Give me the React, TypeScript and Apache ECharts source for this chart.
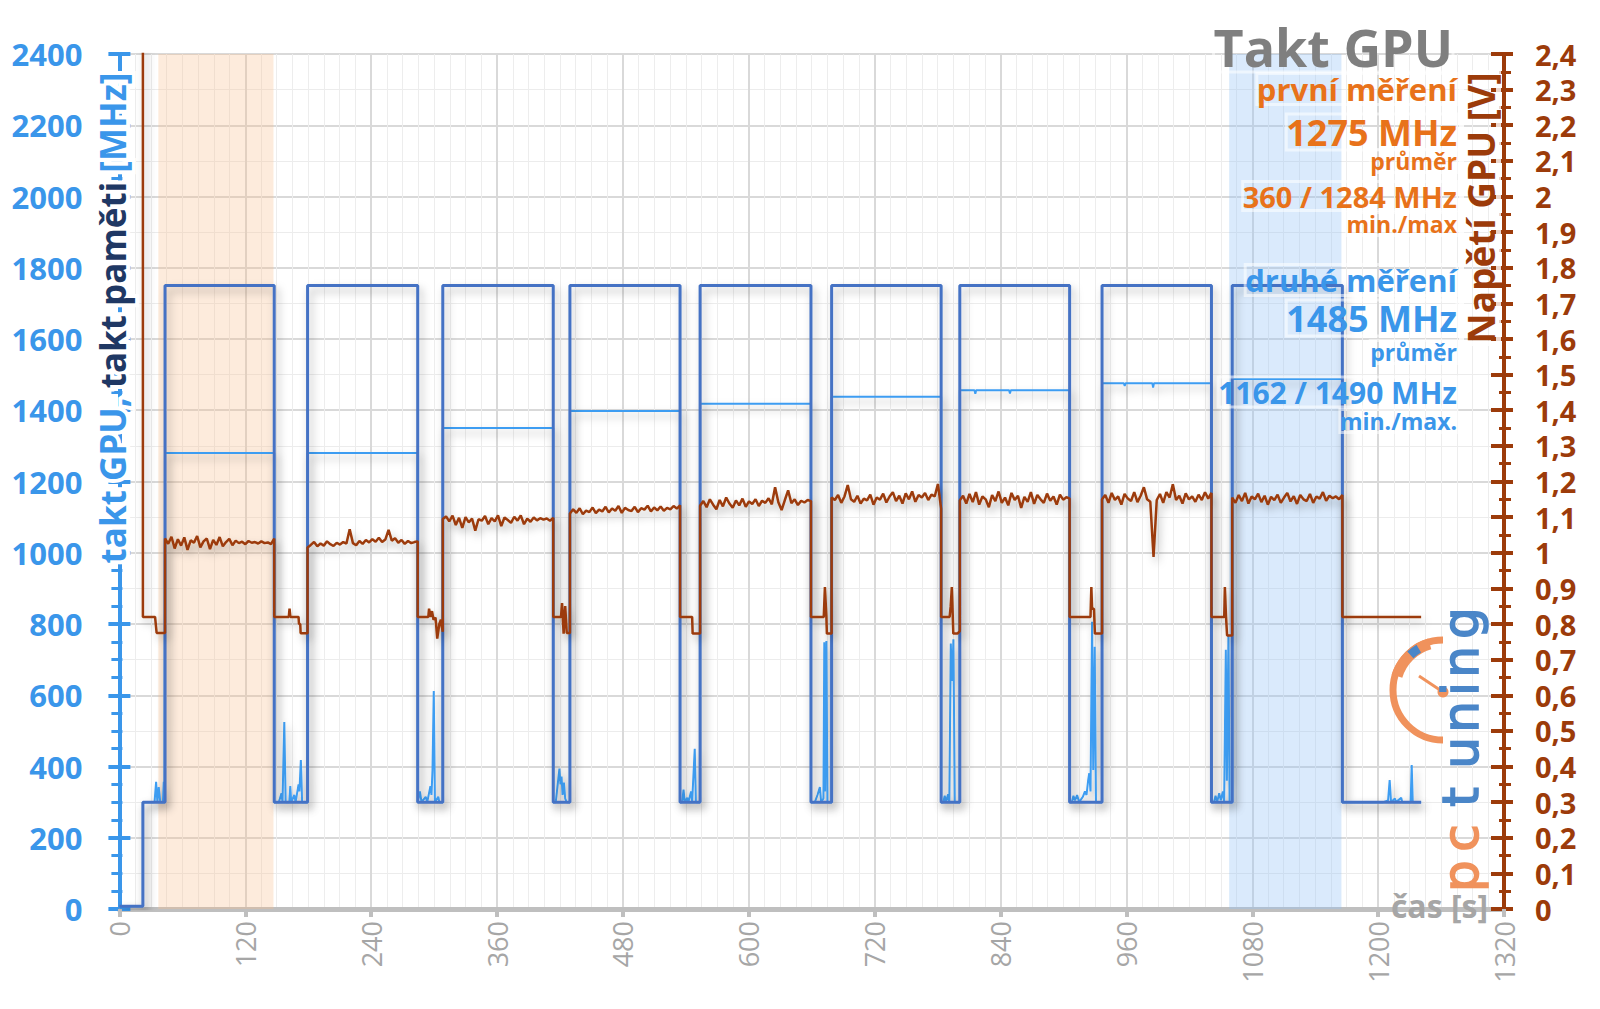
import React, { useEffect, useRef } from 'react';
import * as echarts from 'echarts';

// ---------- data (time in s, clocks in MHz, voltage in V) ----------
const powerOnT = 22.4;
const runEnd = 1241;
const offMHz = 8;
const memIdleMHz = 300;
const memLoadMHz = 1750;
const gpuIdleMHz = 300;

const loadStart = [43.5, 179.4, 308.3, 429.5, 553.6, 679.0, 801.2, 936.8, 1060.9];
const loadEnd = [147.6, 284.4, 413.6, 534.5, 659.3, 783.4, 905.9, 1041.1, 1165.9];

const gpuLoadMHz = [1280, 1280, 1350, 1398, 1418, 1438, 1456, 1476, 1488];
const gpuLoadDips = [[816, 1446], [849, 1447], [958.4, 1468], [985.5, 1464]];

const gpuIdle0 = [[33.5, 300], [35.0, 357], [36.2, 300], [37.5, 342], [39.0, 300], [41.5, 300], [42.3, 357], [43.0, 300]];
const gpuIdle1 = [[152, 300], [154.5, 325], [155.5, 300], [157.2, 525], [158.5, 300], [162.0, 300], [162.9, 345], [163.8, 300], [166.7, 320], [168, 300], [170.8, 350], [171.6, 330], [173.0, 418], [174.2, 300]];
const gpuIdle2 = [[286.5, 330], [288, 300], [292, 315], [293.5, 300], [296.5, 345], [297.5, 320], [298.5, 390], [299.7, 612], [300.8, 300], [304, 315], [305, 300]];
const gpuIdle3 = [[416, 300], [417.5, 340], [419.5, 394], [420.5, 350], [421.5, 372], [422.5, 320], [423.8, 355], [425, 310], [426.5, 300]];
const gpuIdle4 = [[536.5, 300], [537.8, 335], [539, 300], [541.4, 312], [542.5, 300], [545, 330], [546, 300], [548.5, 450], [549.6, 300]];
const gpuIdle5 = [[663, 300], [665.5, 320], [667.8, 342], [669, 300], [671.2, 310], [672.0, 749], [672.8, 330], [674.0, 752], [675.0, 300]];
const gpuIdle6 = [[785.5, 300], [786.8, 318], [788, 300], [790, 322], [791.2, 300], [792.6, 745], [793.8, 640], [795.1, 757], [796.4, 300]];
const gpuIdle7 = [[908, 300], [909.5, 318], [911, 305], [913, 320], [915, 300], [918.5, 315], [920.5, 330], [922, 320], [923.5, 360], [924.6, 381], [925.8, 330], [927.3, 806], [928.4, 390], [929.8, 736], [931, 300]];
const gpuIdle8 = [[1043.5, 300], [1045, 318], [1046.5, 300], [1048.5, 325], [1050, 305], [1052, 330], [1053.2, 300], [1054.8, 728], [1055.8, 360], [1057.3, 770], [1058.4, 300]];
const gpuIdle9 = [[1205, 300], [1209.5, 305], [1211, 362], [1212.3, 300], [1216, 310], [1217, 300], [1222, 312], [1223, 300], [1231, 300], [1232, 404], [1233, 300]];

const voltIdle0 = [[powerOnT, 2.6], [powerOnT, 0.82], [34.0, 0.82], [35.5, 0.775], [43.5, 0.775]];
const voltIdle1 = [[147.6, 0.82], [161.5, 0.82], [162.2, 0.843], [163.0, 0.82], [170.8, 0.82], [171.2, 0.80], [172.4, 0.80], [172.8, 0.774], [179.4, 0.774]];
const voltIdle2 = [[284.4, 0.82], [294.5, 0.82], [295.2, 0.843], [296.5, 0.82], [298.0, 0.836], [299.5, 0.812], [301.4, 0.818], [303.0, 0.759], [305.0, 0.80], [306.5, 0.812], [307.5, 0.79], [308.3, 0.778]];
const voltIdle3 = [[413.6, 0.82], [421.0, 0.82], [422.0, 0.859], [423.5, 0.773], [425.0, 0.85], [426.5, 0.775], [429.5, 0.775]];
const voltIdle4 = [[534.5, 0.82], [546.0, 0.82], [546.5, 0.773], [553.6, 0.773]];
const voltIdle5 = [[659.3, 0.82], [671.5, 0.82], [672.6, 0.904], [674.0, 0.82], [674.5, 0.773], [679.0, 0.773]];
const voltIdle6 = [[783.4, 0.82], [791.5, 0.82], [792.5, 0.85], [793.6, 0.904], [795.0, 0.773], [799.0, 0.773], [801.2, 0.78]];
const voltIdle7 = [[905.9, 0.82], [925.8, 0.82], [926.6, 0.904], [927.3, 0.843], [929.1, 0.843], [930.0, 0.773], [936.8, 0.773]];
const voltIdle8 = [[1041.1, 0.82], [1053.3, 0.82], [1053.9, 0.904], [1055.0, 0.82], [1056.0, 0.768], [1060.9, 0.768]];
const voltIdle9 = [[1165.9, 0.82], [runEnd, 0.82]];

const voltLoad1 = [1.040, 1.025, 1.045, 1.012, 1.038, 1.020, 1.043, 1.008, 1.035, 1.028, 1.047, 1.015, 1.032, 1.040, 1.010, 1.036, 1.022, 1.044, 1.018, 1.030, 1.039, 1.021, 1.034, 1.027, 1.031, 1.024, 1.033, 1.028, 1.030, 1.026, 1.032, 1.027, 1.029, 1.024, 1.040];
const voltLoad2 = [1.015, 1.022, 1.030, 1.018, 1.026, 1.020, 1.032, 1.024, 1.019, 1.028, 1.023, 1.030, 1.026, 1.066, 1.027, 1.021, 1.033, 1.025, 1.036, 1.029, 1.038, 1.031, 1.042, 1.030, 1.037, 1.064, 1.034, 1.041, 1.028, 1.036, 1.025, 1.033, 1.027, 1.030, 1.032];
const voltLoad3 = [1.095, 1.102, 1.088, 1.104, 1.078, 1.098, 1.070, 1.100, 1.085, 1.096, 1.062, 1.094, 1.090, 1.103, 1.080, 1.097, 1.088, 1.105, 1.075, 1.099, 1.092, 1.084, 1.101, 1.090, 1.105, 1.080, 1.096, 1.087, 1.099, 1.091, 1.097, 1.093, 1.096, 1.090, 1.098];
const voltLoad4 = [1.110, 1.122, 1.112, 1.125, 1.108, 1.118, 1.114, 1.127, 1.111, 1.121, 1.116, 1.129, 1.113, 1.124, 1.118, 1.131, 1.112, 1.126, 1.120, 1.117, 1.129, 1.114, 1.125, 1.121, 1.132, 1.116, 1.127, 1.119, 1.130, 1.118, 1.126, 1.122, 1.131, 1.124, 1.133];
const voltLoad5 = [1.132, 1.145, 1.128, 1.150, 1.135, 1.122, 1.148, 1.130, 1.155, 1.138, 1.126, 1.147, 1.133, 1.152, 1.129, 1.144, 1.137, 1.150, 1.131, 1.146, 1.140, 1.153, 1.136, 1.184, 1.142, 1.120, 1.148, 1.175, 1.139, 1.150, 1.134, 1.146, 1.141, 1.148, 1.145];
const voltLoad6 = [1.155, 1.148, 1.162, 1.140, 1.158, 1.190, 1.150, 1.143, 1.160, 1.138, 1.152, 1.147, 1.163, 1.135, 1.155, 1.149, 1.166, 1.141, 1.158, 1.170, 1.145, 1.160, 1.138, 1.167, 1.150, 1.172, 1.143, 1.162, 1.155, 1.168, 1.148, 1.163, 1.158, 1.193, 1.124];
const voltLoad7 = [1.147, 1.160, 1.138, 1.165, 1.142, 1.170, 1.135, 1.158, 1.150, 1.128, 1.162, 1.145, 1.172, 1.140, 1.155, 1.133, 1.168, 1.148, 1.160, 1.126, 1.157, 1.143, 1.170, 1.137, 1.162, 1.150, 1.140, 1.166, 1.146, 1.158, 1.135, 1.163, 1.149, 1.156, 1.152];
const voltLoad8 = [1.150, 1.162, 1.140, 1.168, 1.148, 1.158, 1.135, 1.165, 1.152, 1.145, 1.170, 1.142, 1.160, 1.184, 1.150, 1.143, 0.988, 1.148, 1.165, 1.140, 1.170, 1.155, 1.192, 1.148, 1.160, 1.138, 1.167, 1.150, 1.158, 1.143, 1.163, 1.148, 1.170, 1.152, 1.168];
const voltLoad9 = [1.155, 1.140, 1.162, 1.145, 1.168, 1.138, 1.158, 1.150, 1.166, 1.142, 1.160, 1.135, 1.157, 1.148, 1.163, 1.140, 1.155, 1.168, 1.144, 1.159, 1.137, 1.162, 1.150, 1.145, 1.165, 1.140, 1.158, 1.152, 1.170, 1.146, 1.160, 1.153, 1.158, 1.150, 1.162];

const bandFirst = [37.1, 146.9];
const bandSecond = [1058, 1165];

const gpuIdleList = [gpuIdle0, gpuIdle1, gpuIdle2, gpuIdle3, gpuIdle4, gpuIdle5, gpuIdle6, gpuIdle7, gpuIdle8, gpuIdle9];
const voltIdleList = [voltIdle0, voltIdle1, voltIdle2, voltIdle3, voltIdle4, voltIdle5, voltIdle6, voltIdle7, voltIdle8, voltIdle9];
const voltLoadList = [voltLoad1, voltLoad2, voltLoad3, voltLoad4, voltLoad5, voltLoad6, voltLoad7, voltLoad8, voltLoad9];

function buildMem() {
  const d: number[][] = [[0, offMHz], [powerOnT, offMHz], [powerOnT, memIdleMHz]];
  loadStart.forEach((s, i) => {
    d.push([s, memIdleMHz], [s, memLoadMHz], [loadEnd[i], memLoadMHz], [loadEnd[i], memIdleMHz]);
  });
  d.push([runEnd, memIdleMHz]);
  return d;
}

function buildGpu() {
  const d: number[][] = [[0, offMHz], [powerOnT, offMHz], [powerOnT, gpuIdleMHz]];
  d.push(...gpuIdleList[0]);
  loadStart.forEach((s, i) => {
    const e = loadEnd[i];
    const g = gpuLoadMHz[i];
    d.push([s, gpuIdleMHz], [s, g]);
    gpuLoadDips.forEach(([t, v]) => {
      if (t > s && t < e) d.push([t - 0.8, g], [t, v], [t + 0.8, g]);
    });
    d.push([e, g], [e, gpuIdleMHz]);
    d.push(...gpuIdleList[i + 1]);
  });
  d.push([runEnd, gpuIdleMHz]);
  return d;
}

function buildVolt() {
  const d: number[][] = [...voltIdleList[0]];
  loadStart.forEach((s, i) => {
    const seg = voltLoadList[i];
    const step = (loadEnd[i] - s) / (seg.length - 1);
    seg.forEach((v, k) => d.push([s + k * step, v]));
    d.push(...voltIdleList[i + 1]);
  });
  return d;
}

// ---------- styling ----------
const FONT = "'Open Sans', 'Noto Sans', sans-serif";
const BLUE = '#3a96ea';
const NAVY = '#1f3864';
const MEM_BLUE = '#4472c4';
const GPU_BLUE = '#3d9df2';
const BROWN = '#9c3b0a';
const ORANGE = '#e8721a';
const GRAY = '#a6a6a6';
const LOGO_ORANGE = '#f0925c';
const LOGO_BLUE = '#4a86c8';

const shadow = { shadowColor: 'rgba(0,0,0,0.28)', shadowBlur: 8, shadowOffsetX: 3, shadowOffsetY: 5 };
const glow = { textBorderColor: 'rgba(255,255,255,0.55)', textBorderWidth: 3 };

function txt(text: string, x: number, y: number, size: number, color: string, extra: any = {}) {
  return {
    type: 'text', x, y, z: 50,
    style: {
      text, fill: color, fontSize: size, fontWeight: 'bold', fontFamily: FONT,
      align: 'right', verticalAlign: 'middle', ...glow, ...extra,
    },
  };
}

const logoLetters = [
  ['p', 876, LOGO_ORANGE], ['c', 838, LOGO_ORANGE], ['t', 797, LOGO_BLUE], ['u', 753, LOGO_BLUE],
  ['n', 717, LOGO_BLUE], ['i', 689, LOGO_BLUE], ['n', 662, LOGO_BLUE], ['g', 623, LOGO_BLUE],
];

export default function App() {
  const ref = useRef<HTMLDivElement>(null);
  useEffect(() => {
    if (!ref.current) return;
    const chart = echarts.init(ref.current, undefined, { renderer: 'svg' });
    const fmtV = (v: number) => String(Math.round(v * 10) / 10).replace('.', ',');
    const fmtN = (v: number) => String(Math.round(v));
    const titleRich = (fill: string) => ({
      fill, fontSize: 35, fontWeight: 'bold', fontFamily: FONT, stroke: '#ffffff', lineWidth: 8,
    });
    const option: any = {
      animation: false,
      backgroundColor: '#ffffff',
      grid: { left: 119.4, right: 96, top: 54, bottom: 100, containLabel: false, outerBoundsMode: 'none' },
      xAxis: {
        type: 'value', min: 0, max: 1320, interval: 120,
        axisLine: { show: true, onZero: false, lineStyle: { color: '#bfbfbf', width: 5 } },
        axisTick: { show: true, length: 8, lineStyle: { color: '#bfbfbf', width: 4 } },
        axisLabel: { rotate: 90, color: GRAY, fontSize: 27, fontFamily: FONT, margin: 12, showMinLabel: true, showMaxLabel: true, formatter: fmtN },
        splitLine: { show: true, lineStyle: { color: '#d9d9d9', width: 2 } },
        minorTick: { show: false, splitNumber: 8 },
        minorSplitLine: { show: true, lineStyle: { color: '#ededed', width: 1 } },
      },
      yAxis: [
        {
          type: 'value', position: 'left', min: 0, max: 2400, interval: 200,
          axisLine: { show: true, onZero: false, lineStyle: { color: BLUE, width: 4 } },
          axisTick: { show: true, length: 11, lineStyle: { color: BLUE, width: 4 } },
          minorTick: { show: true, splitNumber: 4, length: 8, lineStyle: { color: BLUE, width: 3 } },
          axisLabel: { color: BLUE, fontSize: 31, fontWeight: 'bold', fontFamily: FONT, margin: 37, formatter: fmtN },
          splitLine: { show: false },
        },
        {
          type: 'value', position: 'right', min: 0, max: 2.4, interval: 0.1,
          axisLine: { show: true, onZero: false, lineStyle: { color: BROWN, width: 4 } },
          axisTick: { show: true, length: 9, lineStyle: { color: BROWN, width: 4 } },
          minorTick: { show: true, splitNumber: 2, length: 7, lineStyle: { color: BROWN, width: 3 } },
          axisLabel: { color: BROWN, fontSize: 29, fontWeight: 'bold', fontFamily: FONT, margin: 31, formatter: fmtV },
          splitLine: { show: true, lineStyle: { color: '#ececec', width: 1 } },
        },
        {
          type: 'value', position: 'left', min: 0, max: 2400, interval: 200,
          axisLine: { show: false, onZero: false },
          axisTick: { show: true, inside: true, length: 11, lineStyle: { color: BLUE, width: 4 } },
          minorTick: { show: true, splitNumber: 4, length: 3, lineStyle: { color: BLUE, width: 3 } },
          axisLabel: { show: false },
          splitLine: { show: true, lineStyle: { color: '#d9d9d9', width: 2 } },
        },
        {
          type: 'value', position: 'right', min: 0, max: 2.4, interval: 0.1,
          axisLine: { show: false, onZero: false },
          axisTick: { show: true, inside: true, length: 13, lineStyle: { color: BROWN, width: 4 } },
          minorTick: { show: true, splitNumber: 2, length: 5, lineStyle: { color: BROWN, width: 3 } },
          axisLabel: { show: false },
          splitLine: { show: false },
        },
      ],
      series: [
        {
          name: 'takt GPU', type: 'line', yAxisIndex: 0, data: buildGpu(), showSymbol: false, symbol: 'none',
          lineStyle: { color: GPU_BLUE, width: 2, ...shadow }, z: 3,
          markArea: {
            silent: true,
            data: [
              [{ xAxis: bandFirst[0], itemStyle: { color: 'rgba(248,190,140,0.3)' } }, { xAxis: bandFirst[1] }],
              [{ xAxis: bandSecond[0], itemStyle: { color: 'rgba(150,195,245,0.35)' } }, { xAxis: bandSecond[1] }],
            ],
          },
        },
        {
          name: 'takt paměti', type: 'line', yAxisIndex: 0, data: buildMem(), showSymbol: false, symbol: 'none',
          lineStyle: { color: MEM_BLUE, width: 3, ...shadow }, z: 4,
        },
        {
          name: 'Napětí GPU', type: 'line', yAxisIndex: 1, data: buildVolt(), showSymbol: false, symbol: 'none',
          lineStyle: { color: BROWN, width: 2.5, ...shadow }, z: 5,
        },
      ],
      graphic: {
        elements: [
          // logo
          { type: 'arc', z: 1, shape: { cx: 1443, cy: 690, r: 50, startAngle: -Math.PI / 2, endAngle: Math.PI / 2, clockwise: false }, style: { stroke: LOGO_ORANGE, lineWidth: 7, fill: 'none' } },
          { type: 'arc', z: 1, shape: { cx: 1443, cy: 690, r: 48, startAngle: -1.85, endAngle: -2.85, clockwise: false }, style: { stroke: LOGO_ORANGE, lineWidth: 11, fill: 'none' } },
          { type: 'arc', z: 1, shape: { cx: 1443, cy: 690, r: 48, startAngle: -2.1, endAngle: -2.32, clockwise: false }, style: { stroke: LOGO_BLUE, lineWidth: 9, fill: 'none' } },
          { type: 'line', z: 1, shape: { x1: 1443, y1: 692, x2: 1419, y2: 676 }, style: { stroke: LOGO_ORANGE, lineWidth: 3 } },
          { type: 'circle', z: 1, shape: { cx: 1443, cy: 692, r: 5.5 }, style: { fill: LOGO_ORANGE } },
          ...logoLetters.map(([ch, y, c]) => ({
            type: 'text', x: 1461, y: y as number, rotation: Math.PI / 2, z: 1,
            style: {
              text: ch as string, fill: c as string, stroke: c as string, lineWidth: 1.6,
              fontSize: 50, fontFamily: "'DejaVu Sans', sans-serif", align: 'center', verticalAlign: 'middle',
            },
          })),
          // title & annotations
          txt('Takt GPU', 1453, 46, 52, '#7f7f7f'),
          txt('první měření', 1457, 89, 31, ORANGE),
          txt('1275 MHz', 1457, 132, 36, ORANGE),
          txt('průměr', 1457, 161, 23, ORANGE),
          txt('360 / 1284 MHz', 1457, 196, 29, ORANGE),
          txt('min./max', 1457, 224, 23, ORANGE),
          txt('druhé měření', 1457, 280, 31, BLUE),
          txt('1485 MHz', 1457, 318, 36, BLUE),
          txt('průměr', 1457, 352, 23, BLUE),
          txt('1162 / 1490 MHz', 1457, 392, 30, BLUE),
          txt('min./max.', 1457, 421, 23, BLUE),
          // axis titles
          {
            type: 'text', x: 112, y: 318, rotation: Math.PI / 2, z: 50,
            style: {
              text: '{a|takt GPU, }{b|takt paměti}{a| [MHz]}',
              fontSize: 35, fontWeight: 'bold', fontFamily: FONT, align: 'center', verticalAlign: 'middle',
              stroke: '#ffffff', lineWidth: 8,
              rich: { a: titleRich(BLUE), b: titleRich(NAVY) },
            },
          },
          {
            type: 'text', x: 1480, y: 208, rotation: Math.PI / 2, z: 50,
            style: { text: 'Napětí GPU [V]', fill: BROWN, fontSize: 37, fontWeight: 'bold', fontFamily: FONT, align: 'center', verticalAlign: 'middle', textBorderColor: 'rgba(255,255,255,0.8)', textBorderWidth: 5 },
          },
          txt('čas [s]', 1488, 905, 32, GRAY, { textBorderWidth: 0 }),
        ],
      },
    };
    chart.setOption(option);
    return () => chart.dispose();
  }, []);
  return <div ref={ref} style={{ position: 'fixed', left: 0, top: 0, width: 1600, height: 1009, background: '#fff' }} />;
}
